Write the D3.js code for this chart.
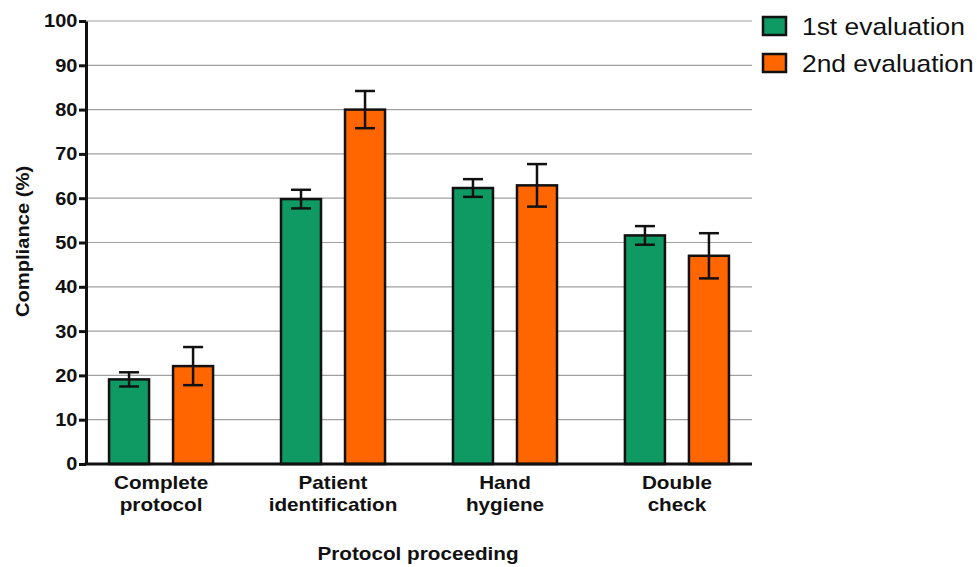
<!DOCTYPE html>
<html>
<head>
<meta charset="utf-8">
<script src="https://cdn.jsdelivr.net/npm/d3@7"></script>
<style>
  body { margin: 0; background: #fff; }
  svg { font-family: "Liberation Sans", Arial, sans-serif; }
</style>
</head>
<body>
<svg id="chart" width="977" height="567"></svg>
<script>
// data
var categories = [["Complete", "protocol"], ["Patient", "identification"], ["Hand", "hygiene"], ["Double", "check"]];
var seriesNames = ["1st evaluation", "2nd evaluation"];
var colors = ["#0f9a63", "#ff6600"];
var firstEval = [19.1, 59.8, 62.3, 51.6];
var secondEval = [22.1, 80.0, 62.9, 47.0];
var firstErr = [1.6, 2.1, 2.0, 2.1];
var secondErr = [4.3, 4.2, 4.8, 5.1];
var yTicks = [0, 10, 20, 30, 40, 50, 60, 70, 80, 90, 100];

var svg = d3.select("#chart");
var mLeft = 86, mRight = 752, mTop = 21, mBottom = 464;
var sx = 1.15; // the original text is a bit wider than Arial

var x = d3.scaleBand()
  .domain(d3.range(categories.length))
  .range([mLeft, mRight])
  .paddingInner(0.395)
  .paddingOuter(0.134);
var x1 = d3.scaleBand()
  .domain([0, 1])
  .range([0, x.bandwidth()])
  .paddingInner(0.375)
  .paddingOuter(0);
var y = d3.scaleLinear().domain([0, 100]).range([mBottom, mTop]);

// gridlines
svg.append("g")
  .selectAll("line.grid")
  .data(yTicks.filter(d => d > 0))
  .join("line")
  .classed("grid", true)
  .attr("x1", mLeft).attr("x2", mRight)
  .attr("y1", d => y(d)).attr("y2", d => y(d))
  .style("stroke", "#a0a0a0")
  .style("stroke-width", "1.2px");

var rows = [];
categories.forEach((c, i) => {
  rows.push({cat: i, s: 0, v: firstEval[i], e: firstErr[i]});
  rows.push({cat: i, s: 1, v: secondEval[i], e: secondErr[i]});
});

// bars
svg.append("g")
  .selectAll("rect.bar")
  .data(rows)
  .join("rect")
  .classed("bar", true)
  .attr("x", d => x(d.cat) + x1(d.s))
  .attr("width", x1.bandwidth())
  .attr("y", d => y(d.v))
  .attr("height", d => y(0) - y(d.v))
  .style("fill", d => colors[d.s])
  .style("stroke", "#111")
  .style("stroke-width", "2.5px");

// error bars
var capW = 20;
var cx = d => x(d.cat) + x1(d.s) + x1.bandwidth() / 2;
var eb = svg.append("g").selectAll("g.err").data(rows).join("g").classed("err", true);
eb.append("line")
  .attr("x1", cx).attr("x2", cx)
  .attr("y1", d => y(d.v - d.e)).attr("y2", d => y(d.v + d.e));
eb.append("line")
  .attr("x1", d => cx(d) - capW / 2).attr("x2", d => cx(d) + capW / 2)
  .attr("y1", d => y(d.v + d.e)).attr("y2", d => y(d.v + d.e));
eb.append("line")
  .attr("x1", d => cx(d) - capW / 2).attr("x2", d => cx(d) + capW / 2)
  .attr("y1", d => y(d.v - d.e)).attr("y2", d => y(d.v - d.e));
eb.selectAll("line").style("stroke", "#111").style("stroke-width", "2.5px");

// y axis
var yAxis = svg.append("g")
  .attr("transform", "translate(" + mLeft + ",0)")
  .call(d3.axisLeft(y).tickValues(yTicks).tickSize(7).tickPadding(1).tickSizeOuter(0));
yAxis.select(".domain").style("stroke", "#111").style("stroke-width", "3px");
yAxis.selectAll(".tick line").style("stroke", "#111").style("stroke-width", "3px");
yAxis.selectAll(".tick text")
  .attr("transform", "scale(1.08,1)")
  .attr("font-family", "Liberation Sans, Arial, sans-serif")
  .attr("font-size", 18.5)
  .style("font-weight", "bold").style("fill", "#111");

// x axis line
svg.append("line")
  .attr("x1", mLeft - 1.5).attr("x2", mRight)
  .attr("y1", mBottom).attr("y2", mBottom)
  .style("stroke", "#111").style("stroke-width", "3px");

// category labels
var cl = svg.append("g").selectAll("g.cat").data(categories).join("g")
  .classed("cat", true)
  .attr("transform", (d, i) => "translate(" + (x(i) + x.bandwidth() / 2) + ",489) scale(" + sx + ",1)");
cl.selectAll("text").data(d => d).join("text")
  .attr("y", (d, i) => i * 22)
  .attr("text-anchor", "middle")
  .style("font-size", "18px").style("font-weight", "bold").style("fill", "#111")
  .text(d => d);

// axis titles
svg.append("text")
  .attr("transform", "translate(" + ((mLeft + mRight) / 2 - 1) + ",560) scale(" + sx + ",1)")
  .attr("text-anchor", "middle")
  .style("font-size", "18px").style("font-weight", "bold").style("fill", "#111")
  .text("Protocol proceeding");
svg.append("text")
  .attr("transform", "translate(29," + ((mTop + mBottom) / 2 - 1) + ") rotate(-90) scale(1.12,1)")
  .attr("text-anchor", "middle")
  .style("font-size", "18px").style("font-weight", "bold").style("fill", "#111")
  .text("Compliance (%)");

// legend
var lg = svg.append("g").selectAll("g.leg").data(seriesNames).join("g")
  .classed("leg", true)
  .attr("transform", (d, i) => "translate(763," + (17 + i * 37) + ")");
lg.append("rect")
  .attr("width", 23).attr("height", 18)
  .style("fill", (d, i) => colors[i])
  .style("stroke", "#111").style("stroke-width", "2.5px");
lg.append("text")
  .attr("transform", "translate(39,18) scale(1.1,1)")
  .style("font-size", "24px").style("fill", "#111")
  .text(d => d);
</script>
</body>
</html>
